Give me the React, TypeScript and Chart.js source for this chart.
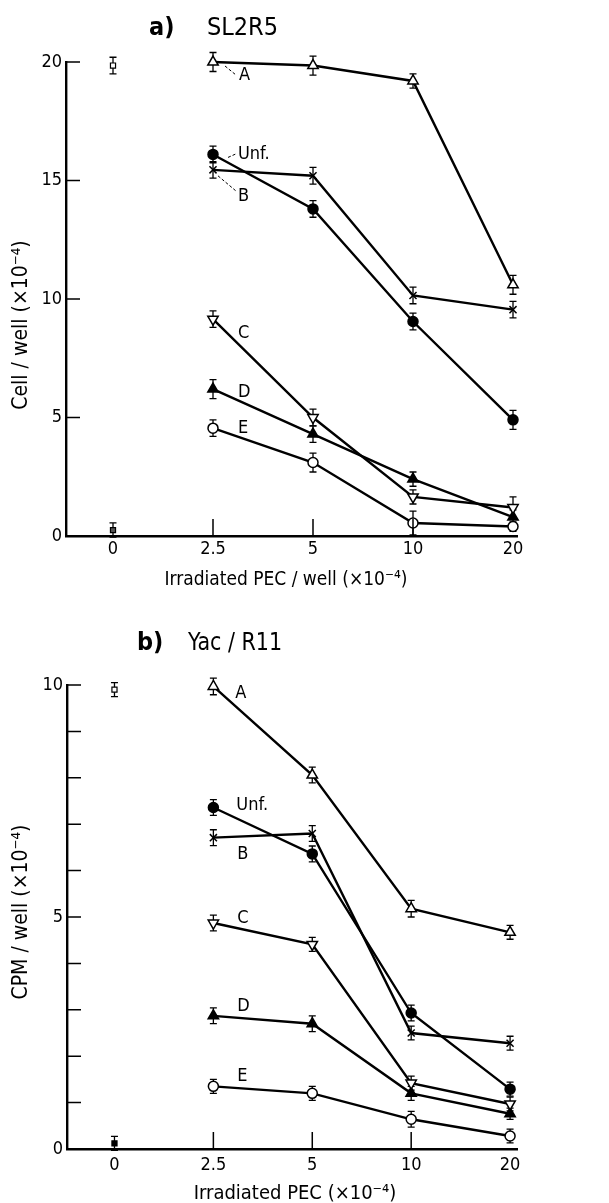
import React, { useEffect, useRef } from "react";
import { Chart, registerables } from "chart.js";

Chart.register(...registerables);

const FONT = '"DejaVu Sans Condensed", "DejaVu Sans", sans-serif';

// ---------- shared x categories ----------
const xLabels = ["0", "2.5", "5", "10", "20"];
const doseIndex = [1, 2, 3, 4];
const controlIndex = [0, 0];

// ---------- a) SL2R5 : Cell / well (x10^-4) ----------
const aYTicksStep = 5;
const aControl = [19.85, 0.25];
const aControlErr = [0.35, 0.3];
const aA = [20.0, 19.85, 19.2, 10.6];
const aAErr = [0.4, 0.4, 0.3, 0.4];
const aUnf = [16.1, 13.8, 9.05, 4.9];
const aUnfErr = [0.35, 0.35, 0.35, 0.4];
const aB = [15.45, 15.2, 10.15, 9.55];
const aBErr = [0.35, 0.35, 0.35, 0.35];
const aC = [9.15, 5.0, 1.65, 1.2];
const aCErr = [0.35, 0.35, 0.3, 0.45];
const aD = [6.2, 4.3, 2.4, 0.8];
const aDErr = [0.4, 0.35, 0.3, 0.3];
const aE = [4.55, 3.1, 0.55, 0.4];
const aEErr = [0.35, 0.4, 0.5, 0.2];

// ---------- b) Yac / R11 : CPM / well (x10^-4) ----------
const bYTicksStep = 1;
const bControl = [9.9, 0.12];
const bControlErr = [0.15, 0.15];
const bA = [9.97, 8.06, 5.18, 4.67];
const bAErr = [0.18, 0.17, 0.18, 0.15];
const bUnf = [7.36, 6.36, 2.93, 1.29];
const bUnfErr = [0.17, 0.17, 0.17, 0.15];
const bB = [6.71, 6.8, 2.5, 2.28];
const bBErr = [0.17, 0.17, 0.15, 0.15];
const bC = [4.87, 4.41, 1.42, 0.97];
const bCErr = [0.17, 0.15, 0.15, 0.15];
const bD = [2.87, 2.7, 1.2, 0.76];
const bDErr = [0.17, 0.17, 0.15, 0.12];
const bE = [1.35, 1.2, 0.64, 0.28];
const bEErr = [0.15, 0.15, 0.17, 0.15];

// ---------- styles ----------
const markerStyles: Record<string, any> = {
  A: { pointStyle: "triangle", radius: 6, fill: "#fff", rotation: 0 },
  Unf: { pointStyle: "circle", radius: 5, fill: "#000", rotation: 0 },
  B: { pointStyle: "crossRot", radius: 5, fill: "#000", rotation: 0 },
  C: { pointStyle: "triangle", radius: 6, fill: "#fff", rotation: 180 },
  D: { pointStyle: "triangle", radius: 6, fill: "#000", rotation: 0 },
  E: { pointStyle: "circle", radius: 5, fill: "#fff", rotation: 0 },
};

function series(key: string, values: number[], errs: number[]) {
  const s = markerStyles[key];
  return {
    label: key,
    data: doseIndex.map((x, i) => ({ x, y: values[i] })),
    errors: errs,
    borderColor: "#000",
    borderWidth: 2.4,
    showLine: true,
    fill: false,
    tension: 0,
    pointStyle: s.pointStyle,
    pointRadius: s.radius,
    pointRotation: s.rotation,
    pointBackgroundColor: s.fill,
    pointBorderColor: "#000",
    pointBorderWidth: 1.5,
    clip: false,
  };
}

function controls(values: number[], errs: number[], lowFill: string) {
  return {
    label: "control",
    data: controlIndex.map((x, i) => ({ x, y: values[i] })),
    errors: errs,
    showLine: false,
    borderColor: "#000",
    pointStyle: "rect",
    pointRadius: 3.6,
    pointBackgroundColor: ["#fff", lowFill],
    pointBorderColor: "#000",
    pointBorderWidth: 1.2,
    clip: false,
  };
}

interface LabelSpec {
  text: string;
  ds: number;
  dx: number;
  dy: number;
  leader?: number[];
}

interface PanelSpec {
  height: number;
  padTop: number;
  axisLeft: number;
  axisRight: number;
  axisBottom: number;
  xMin: number;
  xMax: number;
  yMax: number;
  yStep: number;
  yLabelEvery: number;
  xTickPad: number;
  datasets: any[];
  tag: string;
  tagX: number;
  name: string;
  nameX: number;
  nameW: number;
  titleY: number;
  xTitle: string;
  xTitleX: number;
  xTitleY: number;
  xTitleW: number;
  yTitle: string;
  yTitleX: number;
  yTitleY: number;
  yTitleW: number;
  labels: LabelSpec[];
}

const panelA: PanelSpec = {
  height: 600,
  padTop: 62,
  axisLeft: 66,
  axisRight: 517,
  axisBottom: 536,
  xMin: -0.47,
  xMax: 4.04,
  yMax: 20,
  yStep: aYTicksStep,
  yLabelEvery: 5,
  xTickPad: 3,
  datasets: [
    series("A", aA, aAErr),
    series("Unf", aUnf, aUnfErr),
    series("B", aB, aBErr),
    series("C", aC, aCErr),
    series("D", aD, aDErr),
    series("E", aE, aEErr),
    controls(aControl, aControlErr, "#555"),
  ],
  tag: "a)",
  tagX: 149,
  name: "SL2R5",
  nameX: 207,
  nameW: 73,
  titleY: 35,
  xTitle: "Irradiated PEC / well (×10⁻⁴)",
  xTitleX: 286,
  xTitleY: 585,
  xTitleW: 243,
  yTitle: "Cell / well (×10⁻⁴)",
  yTitleX: 27,
  yTitleY: 325,
  yTitleW: 184,
  labels: [
    { text: "A", ds: 0, dx: 26, dy: 18, leader: [12, 4, 23, 13] },
    { text: "Unf.", ds: 1, dx: 25, dy: 5, leader: [15, 3, 24, -1] },
    { text: "B", ds: 2, dx: 25, dy: 31, leader: [5, 6, 24, 22] },
    { text: "C", ds: 3, dx: 25, dy: 19 },
    { text: "D", ds: 4, dx: 25, dy: 8 },
    { text: "E", ds: 5, dx: 25, dy: 5 },
  ],
};

const panelB: PanelSpec = {
  height: 603,
  padTop: 85,
  axisLeft: 67,
  axisRight: 517,
  axisBottom: 549,
  xMin: -0.48,
  xMax: 4.07,
  yMax: 10,
  yStep: bYTicksStep,
  yLabelEvery: 5,
  xTickPad: 6,
  datasets: [
    series("A", bA, bAErr),
    series("Unf", bUnf, bUnfErr),
    series("B", bB, bBErr),
    series("C", bC, bCErr),
    series("D", bD, bDErr),
    series("E", bE, bEErr),
    controls(bControl, bControlErr, "#000"),
  ],
  tag: "b)",
  tagX: 137,
  name: "Yac / R11",
  nameX: 188,
  nameW: 94,
  titleY: 50,
  xTitle: "Irradiated PEC (×10⁻⁴)",
  xTitleX: 295,
  xTitleY: 599,
  xTitleW: 203,
  yTitle: "CPM / well (×10⁻⁴)",
  yTitleX: 27,
  yTitleY: 312,
  yTitleW: 183,
  labels: [
    { text: "A", ds: 0, dx: 22, dy: 12 },
    { text: "Unf.", ds: 1, dx: 23, dy: 3 },
    { text: "B", ds: 2, dx: 24, dy: 21 },
    { text: "C", ds: 3, dx: 24, dy: 0 },
    { text: "D", ds: 4, dx: 24, dy: -5 },
    { text: "E", ds: 5, dx: 24, dy: -5 },
  ],
};

function overlay(spec: PanelSpec) {
  return {
    id: "overlay",
    beforeDatasetsDraw(chart: any) {
      const ctx = chart.ctx;
      const xs = chart.scales.x;
      const ys = chart.scales.y;
      ctx.save();
      ctx.strokeStyle = "#000";
      ctx.lineWidth = 1.3;
      chart.data.datasets.forEach((ds: any) => {
        const err = ds.errors;
        if (!err) return;
        ds.data.forEach((pt: any, i: number) => {
          const x = xs.getPixelForValue(pt.x);
          const y1 = ys.getPixelForValue(pt.y + err[i]);
          const y2 = ys.getPixelForValue(pt.y - err[i]);
          ctx.beginPath();
          ctx.moveTo(x, y1);
          ctx.lineTo(x, y2);
          ctx.moveTo(x - 3.5, y1);
          ctx.lineTo(x + 3.5, y1);
          ctx.moveTo(x - 3.5, y2);
          ctx.lineTo(x + 3.5, y2);
          ctx.stroke();
        });
      });
      ctx.restore();
    },
    afterDraw(chart: any) {
      const ctx = chart.ctx;
      const xs = chart.scales.x;
      const ys = chart.scales.y;
      const area = chart.chartArea;
      ctx.save();
      // inward tick marks
      ctx.strokeStyle = "#000";
      ctx.lineWidth = 1.5;
      ctx.beginPath();
      ys.ticks.forEach((t: any) => {
        const y = ys.getPixelForValue(t.value);
        ctx.moveTo(area.left, y);
        ctx.lineTo(area.left + 14, y);
      });
      xs.ticks.forEach((t: any) => {
        if (t.value < 1 || t.value > 3) return;
        const x = xs.getPixelForValue(t.value);
        ctx.moveTo(x, area.bottom);
        ctx.lineTo(x, area.bottom - 17);
      });
      ctx.stroke();

      ctx.fillStyle = "#000";
      ctx.textBaseline = "alphabetic";
      // panel title
      ctx.textAlign = "left";
      ctx.font = `bold 25px ${FONT}`;
      ctx.fillText(spec.tag, spec.tagX, spec.titleY);
      ctx.font = `25px ${FONT}`;
      ctx.fillText(spec.name, spec.nameX, spec.titleY, spec.nameW);

      // axis titles
      ctx.font = `20px ${FONT}`;
      ctx.textAlign = "center";
      ctx.fillText(spec.xTitle, spec.xTitleX, spec.xTitleY, spec.xTitleW);
      ctx.save();
      ctx.translate(spec.yTitleX, spec.yTitleY);
      ctx.rotate(-Math.PI / 2);
      ctx.font = `21px ${FONT}`;
      ctx.fillText(spec.yTitle, 0, 0, spec.yTitleW);
      ctx.restore();

      // series labels
      ctx.font = `18px ${FONT}`;
      ctx.textAlign = "left";
      spec.labels.forEach((l) => {
        const pt = chart.data.datasets[l.ds].data[0];
        const x = xs.getPixelForValue(pt.x);
        const y = ys.getPixelForValue(pt.y);
        ctx.fillText(l.text, x + l.dx, y + l.dy);
        if (l.leader) {
          ctx.save();
          ctx.setLineDash([3, 2]);
          ctx.lineWidth = 1;
          ctx.beginPath();
          ctx.moveTo(x + l.leader[0], y + l.leader[1]);
          ctx.lineTo(x + l.leader[2], y + l.leader[3]);
          ctx.stroke();
          ctx.restore();
        }
      });
      ctx.restore();
    },
  };
}

function buildConfig(spec: PanelSpec): any {
  return {
    type: "line",
    data: { datasets: spec.datasets },
    options: {
      animation: false,
      responsive: false,
      maintainAspectRatio: false,
      devicePixelRatio: 1,
      events: [],
      layout: { padding: { top: spec.padTop, left: 0, right: 609 - spec.axisRight, bottom: 0 } },
      plugins: { legend: { display: false }, tooltip: { enabled: false }, title: { display: false } },
      scales: {
        x: {
          type: "linear",
          min: spec.xMin,
          max: spec.xMax,
          afterBuildTicks: (s: any) => {
            s.ticks = xLabels.map((_, i) => ({ value: i }));
          },
          afterFit: (s: any) => {
            s.height = spec.height - spec.axisBottom;
          },
          grid: { display: false, drawTicks: false },
          border: { display: true, color: "#000", width: 2.4 },
          ticks: {
            autoSkip: false,
            maxRotation: 0,
            padding: spec.xTickPad,
            color: "#000",
            font: { family: FONT, size: 18 },
            callback: (v: any) => xLabels[v] ?? "",
          },
        },
        y: {
          type: "linear",
          min: 0,
          max: spec.yMax,
          afterFit: (s: any) => {
            s.width = spec.axisLeft;
          },
          grid: { display: false, drawTicks: false },
          border: { display: true, color: "#000", width: 2.4 },
          ticks: {
            stepSize: spec.yStep,
            padding: 4,
            color: "#000",
            font: { family: FONT, size: 18 },
            callback: (v: any) => (v % spec.yLabelEvery === 0 ? String(v) : ""),
          },
        },
      },
    },
    plugins: [overlay(spec)],
  };
}

function Panel({ spec, top }: { spec: PanelSpec; top: number }) {
  const ref = useRef<HTMLCanvasElement>(null);
  useEffect(() => {
    const chart = new Chart(ref.current as HTMLCanvasElement, buildConfig(spec));
    return () => chart.destroy();
  }, [spec]);
  return (
    <canvas
      ref={ref}
      width={609}
      height={spec.height}
      style={{ position: "absolute", left: 0, top, width: 609, height: spec.height, display: "block" }}
    />
  );
}

export default function App() {
  return (
    <div style={{ position: "absolute", left: 0, top: 0, width: 609, height: 1203, background: "#fff" }}>
      <Panel spec={panelA} top={0} />
      <Panel spec={panelB} top={600} />
    </div>
  );
}
